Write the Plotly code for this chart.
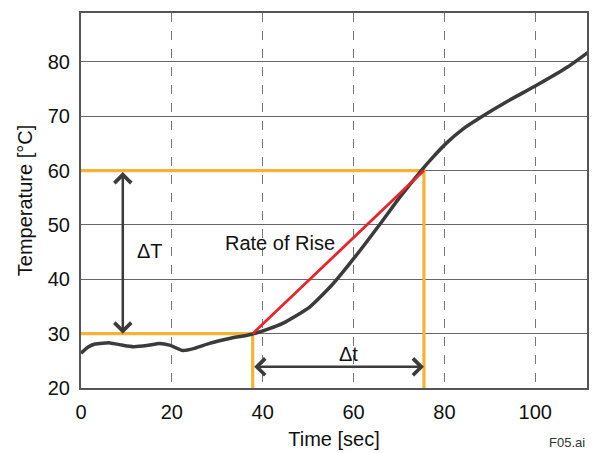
import plotly.graph_objects as go

# Measured temperature curve
time_s = [0, 1.5, 3.1, 6.4, 9, 11.5, 14.5, 17.3, 19.5, 22.4, 25, 28.3, 32.7, 37.6,
          41, 44.4, 50.2, 55.3, 60.5, 65.6, 70.0, 75.1, 77.3, 80.5, 84, 88.2, 94,
          100.3, 107.2, 112]
temp_c = [26.4, 27.5, 28.1, 28.3, 27.9, 27.6, 27.8, 28.2, 27.9, 26.9, 27.3, 28.2, 29.1, 29.9,
          30.8, 31.9, 34.8, 39.0, 44.3, 49.9, 54.9, 60.2, 62.3, 65.1, 67.6, 69.9, 72.8,
          75.7, 79.1, 82.0]

# Rate-of-rise construction
t_start, t_end = 37.8, 75.5
T_low, T_high = 30, 60
y_floor = 20
dT_arrow_x = 9.2
dt_arrow_y = 23.9

x_ticks = [0, 20, 40, 60, 80, 100]
y_ticks = [20, 30, 40, 50, 60, 70, 80]

FONT = "Arial, Liberation Sans, sans-serif"
ORANGE = "#f5b335"
DARK = "#3b3b3b"
RED = "#e8232b"

fig = go.Figure()

# orange construction lines
fig.add_trace(go.Scatter(x=[0, t_start, t_start], y=[T_low, T_low, y_floor],
                         mode="lines", line=dict(color=ORANGE, width=3.2), hoverinfo="skip"))
fig.add_trace(go.Scatter(x=[0, t_end, t_end], y=[T_high, T_high, y_floor],
                         mode="lines", line=dict(color=ORANGE, width=3.2), hoverinfo="skip"))
# temperature curve
fig.add_trace(go.Scatter(x=time_s, y=temp_c, mode="lines",
                         line=dict(color=DARK, width=3.5, shape="spline", smoothing=0.5),
                         hoverinfo="skip"))
# rate of rise line
fig.add_trace(go.Scatter(x=[t_start, t_end], y=[T_low, T_high], mode="lines",
                         line=dict(color=RED, width=2.8), hoverinfo="skip"))

arrow_common = dict(xref="x", yref="y", axref="x", ayref="y", text="", showarrow=True,
                    arrowhead=4, startarrowhead=4, arrowside="end+start",
                    arrowsize=1.3, startarrowsize=1.3, arrowwidth=2.5, arrowcolor=DARK)
fig.add_annotation(x=dT_arrow_x, y=T_low, ax=dT_arrow_x, ay=T_high, **arrow_common)
fig.add_annotation(x=t_end, y=dt_arrow_y, ax=t_start, ay=dt_arrow_y, **arrow_common)

txt = dict(xref="x", yref="y", showarrow=False, font=dict(family=FONT, size=20, color="#111"))
fig.add_annotation(x=15.1, y=45.3, text="ΔT", **txt)
fig.add_annotation(x=43.8, y=46.7, text="Rate of Rise", **txt)
fig.add_annotation(x=59, y=26.2, text="Δt", **txt)
fig.add_annotation(x=1, y=0, xref="paper", yref="paper", xanchor="right", yanchor="top",
                   xshift=0, yshift=-45, text="F05.ai", showarrow=False,
                   font=dict(family=FONT, size=13, color="#333"))

fig.update_layout(
    width=592, height=453,
    margin=dict(l=81, r=3, t=13, b=65),
    paper_bgcolor="white", plot_bgcolor="white",
    showlegend=False,
    font=dict(family=FONT, size=20, color="#111"),
)
fig.update_xaxes(range=[0, 111.4], tickvals=x_ticks, showgrid=True, griddash="dash",
                 gridcolor="#777", gridwidth=1, zeroline=False,
                 showline=True, linecolor="#555", linewidth=2, mirror=True,
                 ticks="outside", ticklen=5, tickcolor="rgba(0,0,0,0)",
                 title=dict(text="Time [sec]", standoff=10, font=dict(size=20)))
fig.update_yaxes(range=[20, 89], tickvals=y_ticks, showgrid=True, gridcolor="#666",
                 gridwidth=1, zeroline=False,
                 showline=True, linecolor="#555", linewidth=2, mirror=True,
                 ticks="outside", ticklen=5, tickcolor="rgba(0,0,0,0)",
                 title=dict(text="Temperature [°C]", standoff=10, font=dict(size=20)))

fig.write_html("out.html", config={"displayModeBar": False},
               post_script="document.body.style.margin='0';document.body.style.padding='0';")
